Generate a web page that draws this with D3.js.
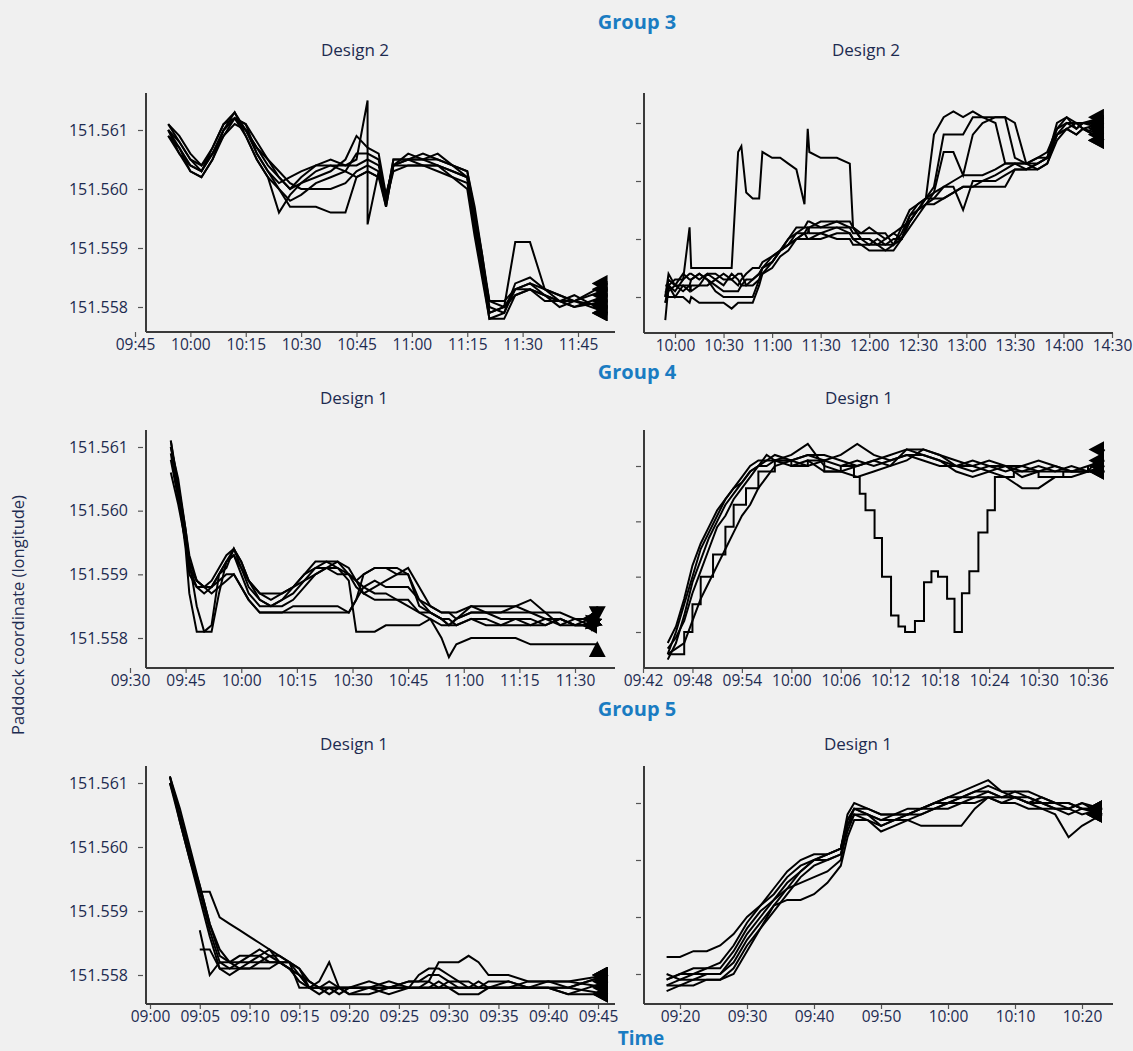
<!DOCTYPE html>
<html><head><meta charset="utf-8">
<script src="https://cdn.jsdelivr.net/npm/d3@7"></script>
<style>
html,body{margin:0;padding:0;background:#f0f0f0;}
svg{display:block;}
</style></head><body>
<svg id="chart" width="1133" height="1051"></svg>
<script>
// ---------------- DATA ----------------
const yTickValues = [151.558, 151.559, 151.560, 151.561];
const yTickLabels = ["151.558", "151.559", "151.560", "151.561"];

// Group 3, left (Design 2)
const g3LeftTicks = ["09:45","10:00","10:15","10:30","10:45","11:00","11:15","11:30","11:45"];
const g3LeftTimes = ["09:54","09:57","10:00","10:03","10:06","10:09","10:12","10:15","10:18","10:21","10:24","10:27","10:30","10:34","10:38","10:42","10:45","10:48","10:48","10:51","10:53","10:55","10:59","11:03","11:07","11:11","11:15","11:17","11:19","11:21","11:25","11:28","11:32","11:36","11:40","11:44","11:53"];
const g3LeftA1 = [151.5611,151.5608,151.5605,151.5603,151.5607,151.5611,151.5613,151.5610,151.5607,151.5604,151.5602,151.5600,151.5601,151.5603,151.5604,151.5604,151.5605,151.5615,151.5594,151.5603,151.5598,151.5605,151.5605,151.5606,151.5605,151.5604,151.5603,151.5596,151.5589,151.5580,151.5579,151.5583,151.5584,151.5583,151.5582,151.5581,151.5584];
const g3LeftA2 = [151.5610,151.5607,151.5603,151.5602,151.5605,151.5610,151.5612,151.5611,151.5606,151.5603,151.5600,151.5597,151.5597,151.5597,151.5596,151.5596,151.5602,151.5603,151.5603,151.5602,151.5597,151.5604,151.5605,151.5604,151.5604,151.5603,151.5602,151.5594,151.5587,151.5579,151.5580,151.5582,151.5583,151.5582,151.5581,151.5580,151.5582];
const g3LeftA3 = [151.5609,151.5606,151.5604,151.5603,151.5606,151.5610,151.5612,151.5609,151.5605,151.5602,151.5596,151.5599,151.5601,151.5602,151.5603,151.5605,151.5609,151.5607,151.5607,151.5606,151.5599,151.5604,151.5605,151.5605,151.5605,151.5604,151.5603,151.5597,151.5589,151.5581,151.5580,151.5591,151.5591,151.5583,151.5582,151.5581,151.5580];
const g3LeftA4 = [151.5610,151.5608,151.5605,151.5604,151.5606,151.5609,151.5611,151.5610,151.5607,151.5605,151.5603,151.5601,151.5600,151.5600,151.5600,151.5601,151.5603,151.5604,151.5604,151.5603,151.5597,151.5604,151.5606,151.5605,151.5606,151.5604,151.5602,151.5593,151.5586,151.5578,151.5579,151.5584,151.5585,151.5583,151.5581,151.5582,151.5579];
const g3LeftA5 = [151.5611,151.5609,151.5606,151.5604,151.5607,151.5611,151.5612,151.5610,151.5606,151.5603,151.5601,151.5602,151.5603,151.5604,151.5605,151.5604,151.5604,151.5605,151.5605,151.5604,151.5598,151.5605,151.5605,151.5605,151.5604,151.5602,151.5601,151.5595,151.5588,151.5581,151.5581,151.5583,151.5584,151.5582,151.5580,151.5581,151.5583];
const g3LeftA6 = [151.5610,151.5606,151.5603,151.5602,151.5605,151.5609,151.5612,151.5611,151.5608,151.5605,151.5602,151.5600,151.5602,151.5604,151.5604,151.5603,151.5602,151.5603,151.5603,151.5602,151.5599,151.5604,151.5604,151.5604,151.5603,151.5602,151.5600,151.5592,151.5585,151.5578,151.5578,151.5582,151.5583,151.5581,151.5581,151.5580,151.5581];
const g3LeftA7 = [151.5609,151.5607,151.5604,151.5603,151.5606,151.5610,151.5613,151.5609,151.5605,151.5602,151.5600,151.5598,151.5599,151.5601,151.5602,151.5603,151.5606,151.5606,151.5606,151.5605,151.5598,151.5603,151.5604,151.5604,151.5604,151.5603,151.5602,151.5594,151.5588,151.5579,151.5580,151.5583,151.5583,151.5582,151.5581,151.5581,151.5579];

// Group 3, right (Design 2)
const g3RightTicks = ["10:00","10:30","11:00","11:30","12:00","12:30","13:00","13:30","14:00","14:30"];
const g3RightTimes = ["09:54","09:56","10:00","10:05","10:09","10:10","10:15","10:20","10:25","10:30","10:35","10:39","10:41","10:44","10:48","10:52","10:54","11:00","11:05","11:10","11:15","11:20","11:22","11:23","11:30","11:40","11:48","11:50","11:55","12:00","12:05","12:10","12:15","12:20","12:25","12:30","12:35","12:40","12:46","12:52","12:58","13:04","13:10","13:18","13:24","13:30","13:37","13:44","13:50","13:56","14:02","14:08","14:12","14:25"];
const g3RightB1 = [151.5576,151.5582,151.5581,151.5583,151.5592,151.5585,151.5585,151.5585,151.5585,151.5585,151.5585,151.5605,151.5606,151.5598,151.5597,151.5597,151.5605,151.5604,151.5604,151.5603,151.5602,151.5596,151.5609,151.5605,151.5604,151.5604,151.5603,151.5592,151.5590,151.5590,151.5589,151.5590,151.5591,151.5590,151.5593,151.5595,151.5597,151.5598,151.5599,151.5600,151.5601,151.5601,151.5601,151.5602,151.5603,151.5603,151.5603,151.5604,151.5604,151.5608,151.5610,151.5610,151.5610,151.5611];
const g3RightB2 = [151.5580,151.5583,151.5582,151.5584,151.5583,151.5583,151.5584,151.5583,151.5581,151.5580,151.5580,151.5580,151.5580,151.5580,151.5580,151.5583,151.5584,151.5586,151.5588,151.5590,151.5591,151.5591,151.5592,151.5592,151.5592,151.5592,151.5591,151.5590,151.5589,151.5589,151.5589,151.5588,151.5588,151.5590,151.5593,151.5595,151.5597,151.5608,151.5611,151.5612,151.5611,151.5612,151.5611,151.5611,151.5611,151.5610,151.5603,151.5603,151.5604,151.5609,151.5611,151.5610,151.5609,151.5607];
const g3RightB3 = [151.5579,151.5582,151.5580,151.5582,151.5582,151.5581,151.5582,151.5584,151.5583,151.5584,151.5583,151.5582,151.5583,151.5584,151.5585,151.5585,151.5586,151.5587,151.5588,151.5590,151.5592,151.5592,151.5593,151.5593,151.5592,151.5593,151.5593,151.5592,151.5591,151.5591,151.5591,151.5591,151.5589,151.5592,151.5595,151.5596,151.5597,151.5599,151.5608,151.5608,151.5608,151.5611,151.5611,151.5610,151.5603,151.5603,151.5602,151.5603,151.5604,151.5610,151.5611,151.5609,151.5610,151.5610];
const g3RightB4 = [151.5581,151.5580,151.5580,151.5580,151.5579,151.5580,151.5579,151.5579,151.5579,151.5579,151.5578,151.5579,151.5579,151.5579,151.5579,151.5582,151.5584,151.5585,151.5587,151.5588,151.5590,151.5590,151.5590,151.5590,151.5591,151.5590,151.5590,151.5589,151.5589,151.5588,151.5588,151.5588,151.5589,151.5591,151.5594,151.5595,151.5596,151.5596,151.5597,151.5598,151.5599,151.5599,151.5600,151.5600,151.5601,151.5602,151.5602,151.5603,151.5604,151.5608,151.5609,151.5608,151.5609,151.5608];
const g3RightB5 = [151.5582,151.5582,151.5583,151.5583,151.5584,151.5584,151.5583,151.5584,151.5584,151.5583,151.5583,151.5584,151.5584,151.5582,151.5583,151.5584,151.5585,151.5586,151.5588,151.5589,151.5591,151.5592,151.5592,151.5591,151.5591,151.5592,151.5592,151.5591,151.5591,151.5592,151.5591,151.5590,151.5591,151.5592,151.5593,151.5595,151.5596,151.5597,151.5597,151.5598,151.5599,151.5599,151.5599,151.5599,151.5599,151.5602,151.5602,151.5602,151.5603,151.5607,151.5609,151.5608,151.5609,151.5607];
const g3RightB6 = [151.5580,151.5584,151.5582,151.5581,151.5582,151.5583,151.5584,151.5583,151.5582,151.5581,151.5581,151.5581,151.5582,151.5583,151.5583,151.5584,151.5585,151.5587,151.5588,151.5589,151.5590,151.5591,151.5591,151.5592,151.5593,151.5593,151.5592,151.5592,151.5590,151.5590,151.5589,151.5589,151.5590,151.5590,151.5592,151.5594,151.5596,151.5598,151.5605,151.5605,151.5601,151.5608,151.5610,151.5611,151.5611,151.5604,151.5603,151.5604,151.5605,151.5609,151.5610,151.5609,151.5610,151.5609];
const g3RightB7 = [151.5579,151.5581,151.5582,151.5582,151.5581,151.5582,151.5582,151.5582,151.5583,151.5582,151.5584,151.5583,151.5582,151.5582,151.5582,151.5583,151.5585,151.5586,151.5588,151.5589,151.5590,151.5591,151.5590,151.5590,151.5590,151.5591,151.5591,151.5590,151.5590,151.5589,151.5590,151.5589,151.5589,151.5590,151.5594,151.5596,151.5597,151.5597,151.5599,151.5599,151.5595,151.5600,151.5600,151.5601,151.5602,151.5603,151.5603,151.5602,151.5603,151.5608,151.5609,151.5610,151.5609,151.5610];

// Group 4, left (Design 1)
const g4LeftTicks = ["09:30","09:45","10:00","10:15","10:30","10:45","11:00","11:15","11:30"];
const g4LeftTimes = ["09:41","09:43","09:45","09:46","09:48","09:50","09:52","09:54","09:56","09:58","10:00","10:02","10:05","10:08","10:11","10:14","10:17","10:20","10:23","10:26","10:29","10:31","10:33","10:36","10:39","10:42","10:45","10:48","10:51","10:54","10:56","10:58","11:02","11:06","11:10","11:14","11:18","11:22","11:26","11:30","11:34","11:36","11:36"];
const g4LeftC1 = [151.5611,151.5603,151.5594,151.5587,151.5581,151.5581,151.5582,151.5590,151.5591,151.5594,151.5591,151.5588,151.5586,151.5585,151.5585,151.5586,151.5588,151.5590,151.5591,151.5592,151.5591,151.5589,151.5587,151.5586,151.5586,151.5586,151.5585,151.5584,151.5584,151.5583,151.5582,151.5582,151.5583,151.5583,151.5582,151.5582,151.5582,151.5583,151.5582,151.5583,151.5582,151.5583,null];
const g4LeftC2 = [151.5610,151.5605,151.5597,151.5592,151.5585,151.5581,151.5581,151.5587,151.5592,151.5593,151.5590,151.5587,151.5585,151.5585,151.5586,151.5587,151.5589,151.5591,151.5592,151.5592,151.5590,151.5589,151.5590,151.5591,151.5591,151.5590,151.5590,151.5586,151.5584,151.5583,151.5583,151.5582,151.5583,151.5582,151.5582,151.5583,151.5583,151.5582,151.5583,151.5582,151.5583,151.5583,null];
const g4LeftC3 = [151.5611,151.5604,151.5596,151.5591,151.5588,151.5588,151.5588,151.5589,151.5590,151.5590,151.5588,151.5586,151.5584,151.5584,151.5584,151.5584,151.5584,151.5584,151.5584,151.5584,151.5584,151.5586,151.5590,151.5591,151.5591,151.5591,151.5590,151.5585,151.5584,151.5583,151.5582,151.5583,151.5584,151.5584,151.5584,151.5584,151.5584,151.5584,151.5582,151.5582,151.5582,151.5582,151.5585];
const g4LeftC4 = [151.5609,151.5602,151.5595,151.5590,151.5588,151.5587,151.5588,151.5590,151.5592,151.5593,151.5591,151.5589,151.5587,151.5586,151.5587,151.5588,151.5590,151.5592,151.5592,151.5591,151.5589,151.5581,151.5581,151.5581,151.5582,151.5582,151.5582,151.5582,151.5583,151.5582,151.5582,151.5583,151.5584,151.5584,151.5584,151.5585,151.5584,151.5583,151.5583,151.5582,151.5582,151.5582,null];
const g4LeftC5 = [151.5610,151.5604,151.5597,151.5593,151.5589,151.5588,151.5589,151.5591,151.5593,151.5594,151.5592,151.5589,151.5587,151.5587,151.5587,151.5588,151.5589,151.5590,151.5591,151.5591,151.5590,151.5589,151.5588,151.5587,151.5587,151.5586,151.5586,151.5584,151.5583,151.5580,151.5577,151.5579,151.5580,151.5580,151.5580,151.5580,151.5579,151.5579,151.5579,151.5579,151.5579,151.5579,151.5577];
const g4LeftC6 = [151.5606,151.5601,151.5595,151.5591,151.5589,151.5588,151.5588,151.5590,151.5592,151.5594,151.5592,151.5589,151.5586,151.5585,151.5586,151.5588,151.5590,151.5591,151.5591,151.5590,151.5590,151.5588,151.5587,151.5588,151.5589,151.5590,151.5591,151.5588,151.5585,151.5584,151.5584,151.5583,151.5585,151.5585,151.5585,151.5585,151.5586,151.5584,151.5584,151.5583,151.5583,151.5582,null];
const g4LeftC7 = [151.5608,151.5602,151.5596,151.5592,151.5589,151.5588,151.5587,151.5588,151.5589,151.5590,151.5588,151.5586,151.5584,151.5584,151.5584,151.5585,151.5585,151.5585,151.5585,151.5585,151.5584,151.5586,151.5588,151.5589,151.5588,151.5588,151.5588,151.5586,151.5585,151.5584,151.5584,151.5584,151.5585,151.5584,151.5583,151.5583,151.5582,151.5582,151.5583,151.5582,151.5582,151.5583,null];

// Group 4, right (Design 1)
const g4RightTicks = ["09:42","09:48","09:54","10:00","10:06","10:12","10:18","10:24","10:30","10:36"];
const g4RightTimes = ["09:45","09:46","09:47","09:48","09:49","09:50","09:51","09:52","09:53","09:54","09:55","09:56","09:57","09:58","10:00","10:02","10:04","10:06","10:08","10:10","10:12","10:14","10:16","10:18","10:20","10:22","10:24","10:26","10:28","10:30","10:32","10:34","10:36","10:38"];
const g4RightD1 = [151.5576,151.5580,151.5585,151.5590,151.5595,151.5598,151.5601,151.5604,151.5606,151.5608,151.5610,151.5611,151.5611,151.5612,151.5611,151.5612,151.5611,151.5610,151.5611,151.5610,151.5611,151.5612,151.5612,151.5611,151.5610,151.5609,151.5610,151.5610,151.5609,151.5610,151.5609,151.5610,151.5609,151.5613];
const g4RightD2 = [151.5575,151.5578,151.5583,151.5589,151.5593,151.5597,151.5600,151.5603,151.5605,151.5607,151.5609,151.5610,151.5611,151.5611,151.5612,151.5614,151.5610,151.5609,151.5610,151.5611,151.5610,151.5611,151.5613,151.5612,151.5610,151.5610,151.5609,151.5610,151.5608,151.5609,151.5609,151.5609,151.5610,151.5611];
const g4RightD3 = [151.5577,151.5579,151.5582,151.5587,151.5591,151.5595,151.5599,151.5601,151.5604,151.5606,151.5608,151.5610,151.5610,151.5611,151.5610,151.5611,151.5609,151.5609,151.5608,151.5609,151.5610,151.5613,151.5612,151.5611,151.5609,151.5608,151.5609,151.5608,151.5606,151.5606,151.5608,151.5608,151.5609,151.5609];
const g4RightD4 = [151.5576,151.5577,151.5578,151.5582,151.5586,151.5589,151.5592,151.5595,151.5598,151.5601,151.5603,151.5606,151.5608,151.5610,151.5611,151.5610,151.5611,151.5612,151.5614,151.5612,151.5611,151.5612,151.5611,151.5610,151.5610,151.5611,151.5610,151.5609,151.5610,151.5609,151.5610,151.5609,151.5609,151.5609];
const g4RightD5 = [151.5578,151.5581,151.5586,151.5592,151.5596,151.5599,151.5602,151.5604,151.5606,151.5607,151.5609,151.5610,151.5612,151.5611,151.5611,151.5612,151.5612,151.5611,151.5610,151.5611,151.5612,151.5613,151.5613,151.5612,151.5611,151.5610,151.5611,151.5610,151.5610,151.5611,151.5610,151.5609,151.5609,151.5610];
// the animal that left the herd (stepwise GPS fixes)
const g4RightExcursionTimes = ["09:45:00","09:47:00","09:48:00","09:49:00","09:50:30","09:52:00","09:53:00","09:54:30","09:56:00","09:58:00","10:00:00","10:02:00","10:04:00","10:06:00","10:07:36","10:08:18","10:09:00","10:10:06","10:11:00","10:12:06","10:13:00","10:13:48","10:15:00","10:16:06","10:17:00","10:17:48","10:18:54","10:19:48","10:20:42","10:21:36","10:22:42","10:23:48","10:24:42","10:27:00","10:30:00","10:33:00","10:36:00"];
const g4RightExcursion = [151.5576,151.5580,151.5585,151.5590,151.5594,151.5599,151.5603,151.5606,151.5609,151.5611,151.5610,151.5611,151.5609,151.5610,151.5608,151.5605,151.5602,151.5597,151.5590,151.5583,151.5581,151.5580,151.5582,151.5589,151.5591,151.5590,151.5586,151.5580,151.5587,151.5591,151.5598,151.5602,151.5608,151.5609,151.5608,151.5609,151.5610];

// Group 5, left (Design 1)
const g5LeftTicks = ["09:00","09:05","09:10","09:15","09:20","09:25","09:30","09:35","09:40","09:45"];
const g5LeftTimes = ["09:02","09:03","09:04","09:05","09:06","09:07","09:08","09:09","09:10","09:11","09:12","09:13","09:14","09:15","09:16","09:17","09:18","09:19","09:20","09:22","09:24","09:26","09:27","09:28","09:29","09:30","09:31","09:32","09:33","09:34","09:36","09:38","09:40","09:42","09:46"];
const g5LeftE1 = [151.5611,151.5605,151.5599,151.5593,151.5587,151.5582,151.5581,151.5582,151.5582,151.5583,151.5582,151.5582,151.5581,151.5579,151.5578,151.5578,151.5578,151.5578,151.5577,151.5578,151.5578,151.5578,151.5578,151.5578,151.5579,151.5578,151.5578,151.5578,151.5578,151.5578,151.5579,151.5578,151.5579,151.5578,151.5580];
const g5LeftE2 = [151.5611,151.5604,151.5598,151.5593,151.5593,151.5589,151.5588,151.5587,151.5586,151.5585,151.5584,151.5582,151.5582,151.5580,151.5578,151.5578,151.5579,151.5578,151.5578,151.5578,151.5577,151.5578,151.5578,151.5579,151.5578,151.5578,151.5578,151.5578,151.5579,151.5578,151.5578,151.5578,151.5578,151.5578,151.5577];
const g5LeftE3 = [null,null,null,151.5587,151.5580,151.5582,151.5582,151.5583,151.5583,151.5584,151.5583,151.5583,151.5582,151.5578,151.5578,151.5579,151.5582,151.5578,151.5578,151.5578,151.5578,151.5579,151.5579,151.5580,151.5580,151.5579,151.5579,151.5578,151.5578,151.5578,151.5578,151.5579,151.5579,151.5579,151.5578];
const g5LeftE4 = [151.5610,151.5605,151.5599,151.5594,151.5588,151.5583,151.5582,151.5582,151.5583,151.5583,151.5584,151.5583,151.5582,151.5581,151.5579,151.5578,151.5578,151.5577,151.5578,151.5578,151.5578,151.5579,151.5579,151.5579,151.5582,151.5582,151.5582,151.5583,151.5582,151.5580,151.5580,151.5579,151.5579,151.5579,151.5580];
const g5LeftE5 = [151.5611,151.5606,151.5600,151.5594,151.5588,151.5584,151.5582,151.5581,151.5582,151.5582,151.5583,151.5582,151.5581,151.5580,151.5578,151.5578,151.5577,151.5578,151.5577,151.5577,151.5578,151.5578,151.5580,151.5581,151.5581,151.5580,151.5579,151.5579,151.5578,151.5578,151.5578,151.5578,151.5578,151.5577,151.5577];
const g5LeftE6 = [151.5610,151.5604,151.5598,151.5592,151.5586,151.5581,151.5580,151.5581,151.5581,151.5582,151.5582,151.5582,151.5582,151.5581,151.5578,151.5577,151.5578,151.5578,151.5578,151.5579,151.5578,151.5578,151.5578,151.5578,151.5578,151.5579,151.5578,151.5578,151.5578,151.5579,151.5579,151.5578,151.5578,151.5577,151.5579];
const g5LeftE7 = [null,null,null,151.5584,151.5584,151.5581,151.5581,151.5581,151.5581,151.5581,151.5581,151.5582,151.5581,151.5580,151.5579,151.5578,151.5578,151.5578,151.5578,151.5578,151.5579,151.5578,151.5578,151.5578,151.5578,151.5578,151.5577,151.5577,151.5577,151.5578,151.5578,151.5578,151.5578,151.5578,151.5580];

// Group 5, right (Design 1)
const g5RightTicks = ["09:20","09:30","09:40","09:50","10:00","10:10","10:20"];
const g5RightTimes = ["09:18","09:20","09:22","09:24","09:26","09:28","09:30","09:32","09:34","09:36","09:38","09:40","09:42","09:44","09:45","09:46","09:48","09:50","09:52","09:54","09:56","09:58","10:00","10:02","10:04","10:06","10:08","10:10","10:12","10:14","10:16","10:18","10:20","10:23"];
const g5RightF1 = [151.5583,151.5583,151.5584,151.5584,151.5585,151.5587,151.5590,151.5592,151.5594,151.5597,151.5599,151.5600,151.5601,151.5602,151.5607,151.5609,151.5608,151.5607,151.5607,151.5608,151.5609,151.5609,151.5610,151.5611,151.5612,151.5612,151.5611,151.5611,151.5610,151.5610,151.5610,151.5609,151.5610,151.5609];
const g5RightF2 = [151.5579,151.5580,151.5580,151.5581,151.5581,151.5584,151.5588,151.5591,151.5593,151.5596,151.5598,151.5600,151.5600,151.5601,151.5605,151.5608,151.5607,151.5606,151.5607,151.5607,151.5608,151.5609,151.5610,151.5611,151.5612,151.5613,151.5612,151.5611,151.5611,151.5610,151.5609,151.5609,151.5608,151.5609];
const g5RightF3 = [151.5578,151.5579,151.5579,151.5580,151.5580,151.5582,151.5586,151.5589,151.5592,151.5593,151.5593,151.5594,151.5596,151.5599,151.5604,151.5607,151.5607,151.5605,151.5606,151.5607,151.5606,151.5606,151.5606,151.5606,151.5609,151.5611,151.5610,151.5610,151.5609,151.5609,151.5608,151.5604,151.5606,151.5608];
const g5RightF4 = [151.5577,151.5578,151.5578,151.5579,151.5579,151.5581,151.5585,151.5588,151.5591,151.5594,151.5597,151.5599,151.5600,151.5601,151.5606,151.5608,151.5608,151.5607,151.5608,151.5608,151.5609,151.5610,151.5611,151.5612,151.5613,151.5614,151.5612,151.5612,151.5612,151.5611,151.5610,151.5610,151.5609,151.5609];
const g5RightF5 = [151.5580,151.5579,151.5580,151.5580,151.5580,151.5583,151.5587,151.5590,151.5593,151.5595,151.5596,151.5597,151.5598,151.5600,151.5606,151.5609,151.5609,151.5608,151.5608,151.5609,151.5609,151.5610,151.5610,151.5610,151.5611,151.5611,151.5611,151.5612,151.5611,151.5610,151.5609,151.5608,151.5609,151.5608];
const g5RightF6 = [151.5578,151.5578,151.5579,151.5579,151.5579,151.5580,151.5584,151.5588,151.5592,151.5595,151.5598,151.5600,151.5601,151.5602,151.5607,151.5609,151.5608,151.5606,151.5607,151.5608,151.5608,151.5609,151.5609,151.5610,151.5610,151.5611,151.5610,151.5611,151.5610,151.5609,151.5609,151.5609,151.5610,151.5608];
const g5RightF7 = [151.5579,151.5580,151.5581,151.5581,151.5582,151.5585,151.5589,151.5592,151.5595,151.5598,151.5600,151.5601,151.5601,151.5602,151.5608,151.5610,151.5609,151.5608,151.5608,151.5608,151.5609,151.5610,151.5611,151.5611,151.5611,151.5612,151.5611,151.5611,151.5610,151.5611,151.5610,151.5610,151.5609,151.5609];

// ---------------- DRAWING ----------------
const NAVY = "#1d2b50", BLUE = "#1a7cc2", FONT = "'Open Sans', 'Noto Sans', sans-serif";
const svg = d3.select("#chart");
svg.append("rect").attr("width", 1133).attr("height", 1051).attr("fill", "#f0f0f0");

// arrow heads at the end of each trajectory
const defs = svg.append("defs");
[["headFixed", "0"], ["headAuto", "auto"]].forEach(([id, orient]) => {
  defs.append("marker").attr("id", id)
    .attr("viewBox", "0 0 10 10").attr("refX", 10).attr("refY", 5)
    .attr("markerWidth", 16).attr("markerHeight", 17).attr("markerUnits", "userSpaceOnUse")
    .attr("preserveAspectRatio", "none").attr("orient", orient)
    .append("path").attr("d", "M10,0 L10,10 L0,5 Z").attr("fill", "#000");
});

const parseT = s => { const p = s.split(":").map(Number); return new Date(2020, 0, 1, p[0], p[1], p[2] || 0); };

const panels = [
  { times: g3LeftTimes, series: [g3LeftA1,g3LeftA2,g3LeftA3,g3LeftA4,g3LeftA5,g3LeftA6,g3LeftA7], ticks: g3LeftTicks,
    box: {l:146, r:615, t:93, b:332}, yr: [307,130], xa: ["09:45",135], xb: ["11:45",578], yLabels: true, head: "headFixed" },
  { times: g3RightTimes, series: [g3RightB1,g3RightB2,g3RightB3,g3RightB4,g3RightB5,g3RightB6,g3RightB7], ticks: g3RightTicks,
    box: {l:644, r:1113, t:93, b:333}, yr: [297,123], xa: ["10:00",675], xb: ["14:30",1112], yLabels: false, head: "headFixed" },
  { times: g4LeftTimes, series: [g4LeftC1,g4LeftC2,g4LeftC3,g4LeftC4,g4LeftC5,g4LeftC6,g4LeftC7], ticks: g4LeftTicks,
    box: {l:146, r:615, t:430, b:668}, yr: [638,447], xa: ["09:30",130], xb: ["11:30",575], yLabels: true, head: "headAuto" },
  { times: g4RightTimes, series: [g4RightD1,g4RightD2,g4RightD3,g4RightD4,g4RightD5], ticks: g4RightTicks,
    box: {l:644, r:1114, t:430, b:668}, yr: [632,466], xa: ["09:42",643], xb: ["10:36",1088], yLabels: false, head: "headFixed",
    stepTimes: g4RightExcursionTimes, stepValues: g4RightExcursion },
  { times: g5LeftTimes, series: [g5LeftE1,g5LeftE2,g5LeftE3,g5LeftE4,g5LeftE5,g5LeftE6,g5LeftE7], ticks: g5LeftTicks,
    box: {l:146, r:615, t:766, b:1004}, yr: [975,783], xa: ["09:00",150], xb: ["09:45",598], yLabels: true, head: "headFixed" },
  { times: g5RightTimes, series: [g5RightF1,g5RightF2,g5RightF3,g5RightF4,g5RightF5,g5RightF6,g5RightF7], ticks: g5RightTicks,
    box: {l:644, r:1113, t:766, b:1004}, yr: [974,803], xa: ["09:20",680], xb: ["10:20",1082], yLabels: false, head: "headFixed" }
];

panels.forEach(p => {
  const g = svg.append("g");
  const x = d3.scaleTime().domain([parseT(p.xa[0]), parseT(p.xb[0])]).range([p.xa[1], p.xb[1]]);
  const y = d3.scaleLinear().domain([151.558, 151.561]).range(p.yr);

  const xa = g.append("g").attr("transform", `translate(0,${p.box.b})`)
    .call(d3.axisBottom(x).tickValues(p.ticks.map(parseT)).tickFormat(d3.timeFormat("%H:%M")).tickSize(5).tickPadding(2));
  xa.select(".domain").remove();
  xa.selectAll(".tick line").attr("stroke", "#555").attr("stroke-width", 1.2);
  xa.selectAll("text").attr("fill", NAVY).style("font-family", FONT).style("font-size", "15.5px");

  const ya = g.append("g").attr("transform", `translate(${p.box.l - 3},0)`)
    .call(d3.axisLeft(y).tickValues(yTickValues)
      .tickFormat((d, i) => p.yLabels ? yTickLabels[i] : "").tickSize(5).tickPadding(10));
  ya.select(".domain").remove();
  ya.selectAll(".tick line").attr("stroke", "#555").attr("stroke-width", 1.2);
  ya.selectAll("text").attr("fill", NAVY).style("font-family", FONT).style("font-size", "16px");

  g.append("line").attr("x1", p.box.l).attr("x2", p.box.r).attr("y1", p.box.b).attr("y2", p.box.b)
    .attr("stroke", "#3a3a3a").attr("stroke-width", 2);
  g.append("line").attr("x1", p.box.l).attr("x2", p.box.l).attr("y1", p.box.t).attr("y2", p.box.b)
    .attr("stroke", "#3a3a3a").attr("stroke-width", 2);

  if (p.stepTimes) {
    const sline = d3.line().curve(d3.curveStepAfter).x(d => x(d[0])).y(d => y(d[1]));
    g.append("path").datum(p.stepTimes.map((t, i) => [parseT(t), p.stepValues[i]]))
      .attr("d", sline).attr("fill", "none").attr("stroke", "#000").attr("stroke-width", 2);
  }
  const line = d3.line().defined(d => d[1] != null).x(d => x(d[0])).y(d => y(d[1]));
  p.series.forEach(s => {
    g.append("path").datum(p.times.map((t, i) => [parseT(t), s[i]]))
      .attr("d", line).attr("fill", "none").attr("stroke", "#000").attr("stroke-width", 2)
      .attr("stroke-linejoin", "miter").attr("marker-end", `url(#${p.head})`);
  });
});

const txt = (x, y, s, size, color, weight) => svg.append("text").attr("x", x).attr("y", y)
  .attr("text-anchor", "middle").attr("fill", color).style("font-family", FONT)
  .style("font-size", size + "px").style("font-weight", weight).text(s);

txt(637, 29, "Group 3", 20, BLUE, 700);
txt(355, 56, "Design 2", 17, NAVY, 400);
txt(866, 56, "Design 2", 17, NAVY, 400);
txt(637, 379, "Group 4", 20, BLUE, 700);
txt(354, 404, "Design 1", 17, NAVY, 400);
txt(859, 404, "Design 1", 17, NAVY, 400);
txt(637, 716, "Group 5", 20, BLUE, 700);
txt(354, 750, "Design 1", 17, NAVY, 400);
txt(858, 750, "Design 1", 17, NAVY, 400);
txt(641, 1045, "Time", 19, BLUE, 700);
svg.append("text").attr("transform", "translate(24,615) rotate(-90)").attr("text-anchor", "middle")
  .attr("fill", NAVY).style("font-family", FONT).style("font-size", "16.5px").text("Paddock coordinate (longitude)");
</script>
</body></html>
